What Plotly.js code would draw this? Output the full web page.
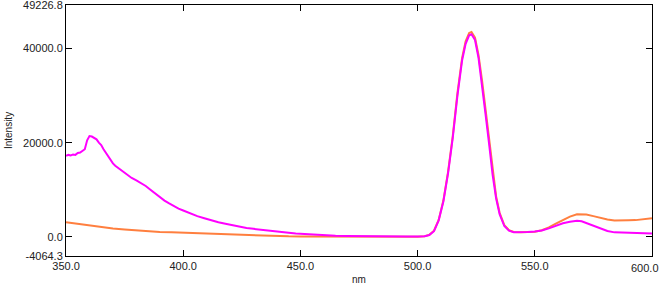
<!DOCTYPE html>
<html>
<head>
<meta charset="utf-8">
<script src="https://cdn.plot.ly/plotly-3.0.1.min.js"></script>
<style>html,body{margin:0;padding:0;background:#fff;}#chart{width:662px;height:286px;}</style>
</head>
<body>
<div id="chart"></div>
<script>
const magentaNm = [350,351,352,353,354,355,356,357,358,359,360,361,362,363,364,365,366,367,368,369,370,371,372,373,374,376,378,380,382,384,386,388,390,392,394,396,398,400,403,406,409,412,415,418,421,424,427,430,433,436,439,442,445,448,451,455,460,465,470,475,480,485,490,495,500,503,505,507,509,511,513,515,517,519,520.5,522,523,524.5,526,527.5,529,530.5,532,533.5,535,537,539,541,544,547,550,553,556,559,562,565,568,570,572,575,578,581,584,588,592,596,600];
const magentaVal = [17200,17400,17300,17500,17400,17800,17900,18300,18600,20500,21400,21300,20900,20700,20000,19500,18600,17800,17000,16300,15600,15100,14700,14300,13900,13100,12500,12000,11400,10800,10000,9200,8500,7700,7100,6500,6000,5600,4950,4400,3950,3500,3100,2800,2450,2200,1900,1700,1500,1400,1200,1000,850,700,600,450,350,250,200,150,100,80,60,50,60,150,400,1200,3500,7500,13500,21000,30000,37500,41000,42800,43000,41800,38000,32500,26000,19800,13200,8200,4800,2300,1300,1000,950,1050,1150,1350,1800,2400,2900,3200,3400,3300,2950,2350,1750,1250,950,850,800,780,700];

const orangeNm = [350,355,360,365,370,375,380,385,390,395,400,405,410,415,420,425,430,435,440,445,450,460,470,480,490,500,503,505,507,509,511,513,515,517,519,520.5,522,523,524.5,526,527.5,529,530.5,532,533.5,535,537,539,541,544,547,550,553,556,559,562,565,568,570,572,575,578,581,584,587,590,593,596,600];
const orangeVal = [3100,2750,2300,2000,1750,1550,1350,1200,1050,950,850,750,650,550,450,380,300,230,170,100,70,40,30,20,20,40,150,420,1300,3600,7700,13800,21400,30500,38000,41500,43300,43500,42300,38600,33200,26700,20400,13700,8600,5100,2500,1400,1050,950,1000,1100,1400,2000,2800,3600,4300,4800,4850,4750,4400,4000,3700,3450,3400,3500,3550,3700,3950];

const xTicks = [350,400,450,500,550,600];
const xTickText = ["350.0","400.0","450.0","500.0","550.0",""];
const xLastTick = 600;
const xLastLabel = "600.0";
const yTicks = [-4064.3,0,20000,40000,49226.8];
const yTickText = ["-4064.3","0.0","20000.0","40000.0","49226.8"];

const traces = [
  {x: orangeNm, y: orangeVal, mode: 'lines', line: {color: '#FF7F3F', width: 2}, hoverinfo: 'skip'},
  {x: magentaNm, y: magentaVal, mode: 'lines', line: {color: '#FF00FF', width: 2}, hoverinfo: 'skip'}
];

const font = {family: 'Liberation Sans, Arial, sans-serif', size: 11, color: '#222'};
const layout = {
  width: 662, height: 286,
  margin: {l: 66, r: 10, t: 5, b: 30},
  paper_bgcolor: '#fff', plot_bgcolor: '#fff',
  showlegend: false,
  font: font,
  xaxis: {
    range: [349.98, 600.02], tickvals: xTicks, ticktext: xTickText,
    ticks: 'inside', ticklen: 6, tickcolor: '#000', tickwidth: 1,
    showline: true, linecolor: '#000', linewidth: 1, mirror: 'ticks',
    showgrid: false, zeroline: false, ticklabeloverflow: 'allow',
    title: {text: 'nm', font: {family: font.family, size: 10, color: '#222'}, standoff: 4},
    tickfont: font
  },
  yaxis: {
    range: [-4068, 49230], tickvals: yTicks, ticktext: yTickText,
    ticks: 'inside', ticklen: 6, tickcolor: '#000', tickwidth: 1,
    showline: true, linecolor: '#000', linewidth: 1, mirror: 'ticks',
    showgrid: false, zeroline: false, ticklabeloverflow: 'allow',
    title: {text: 'Intensity', font: {family: font.family, size: 10, color: '#222'}, standoff: 8},
    tickfont: font
  },
  annotations: [{
    x: xLastTick, xref: 'x', y: 0, yref: 'paper', yanchor: 'top', xanchor: 'right',
    xshift: 9, yshift: -4, text: xLastLabel, showarrow: false, font: font
  }]
};
Plotly.newPlot('chart', traces, layout, {staticPlot: true, displayModeBar: false});
</script>
</body>
</html>
